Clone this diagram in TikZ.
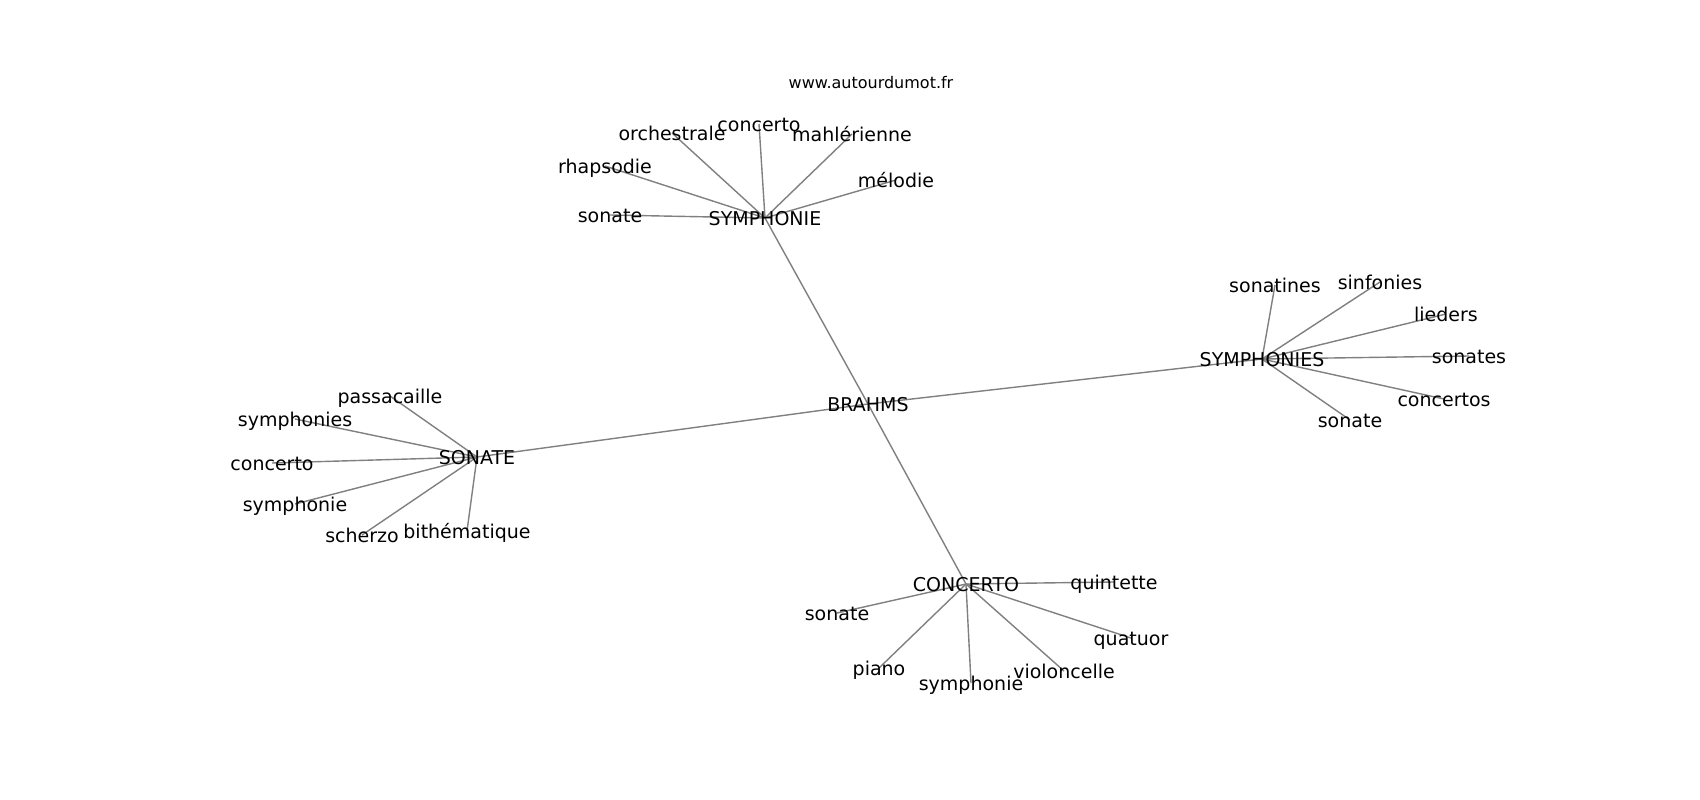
\documentclass[tikz,border=0pt]{standalone}
\usepackage{fontspec}
\setmainfont{DejaVu Sans}
\usetikzlibrary{backgrounds}
\definecolor{edgegray}{HTML}{808080}
\tikzset{
  word/.style={inner sep=0pt, text height=14pt, text depth=0pt, font=\fontsize{19}{23}\selectfont, text=black},
  link/.style={draw=edgegray, line width=1.4pt},
  site/.style={inner sep=0pt, font=\fontsize{16}{19}\selectfont, text=black}
}
\begin{document}
\begin{tikzpicture}[x=1pt, y=-1pt]
\useasboundingbox (0,0) rectangle (1700,800);
\node[site] (web) at (871,83) {www.autourdumot.fr};
% hubs
\node[word] (brahms) at (868,404) {BRAHMS};
\node[word] (symphonie) at (765,218) {SYMPHONIE};
\node[word] (sonate) at (477,457) {SONATE};
\node[word] (symphonies) at (1262,359) {SYMPHONIES};
\node[word] (concerto) at (966,584) {CONCERTO};
% SYMPHONIE leaves
\node[word] (a1) at (672,133) {orchestrale};
\node[word] (a2) at (759,124) {concerto};
\node[word] (a3) at (852,134) {mahlérienne};
\node[word] (a4) at (605,166) {rhapsodie};
\node[word] (a5) at (896,180) {mélodie};
\node[word] (a6) at (610,215) {sonate};
% SONATE leaves
\node[word] (b1) at (390,396) {passacaille};
\node[word] (b2) at (295,419) {symphonies};
\node[word] (b3) at (272,463) {concerto};
\node[word] (b4) at (295,504) {symphonie};
\node[word] (b5) at (362,535) {scherzo};
\node[word] (b6) at (467,531) {bithématique};
% SYMPHONIES leaves
\node[word] (c1) at (1275,285) {sonatines};
\node[word] (c2) at (1380,282) {sinfonies};
\node[word] (c3) at (1446,314) {lieders};
\node[word] (c4) at (1469,356) {sonates};
\node[word] (c5) at (1444,399) {concertos};
\node[word] (c6) at (1350,420) {sonate};
% CONCERTO leaves
\node[word] (d1) at (1114,582) {quintette};
\node[word] (d2) at (837,613) {sonate};
\node[word] (d3) at (1131,638) {quatuor};
\node[word] (d4) at (879,668) {piano};
\node[word] (d5) at (971,683) {symphonie};
\node[word] (d6) at (1064,671) {violoncelle};
\begin{pgfonlayer}{background}
\fill[white] (0,0) rectangle (1700,800);
\foreach \h in {symphonie,sonate,symphonies,concerto}
  \draw[link] (brahms.center) -- (\h.center);
\foreach \l in {a1,a2,a3,a4,a5,a6}
  \draw[link] (symphonie.center) -- (\l.center);
\foreach \l in {b1,b2,b3,b4,b5,b6}
  \draw[link] (sonate.center) -- (\l.center);
\foreach \l in {c1,c2,c3,c4,c5,c6}
  \draw[link] (symphonies.center) -- (\l.center);
\foreach \l in {d1,d2,d3,d4,d5,d6}
  \draw[link] (concerto.center) -- (\l.center);
\end{pgfonlayer}
\end{tikzpicture}
\end{document}
